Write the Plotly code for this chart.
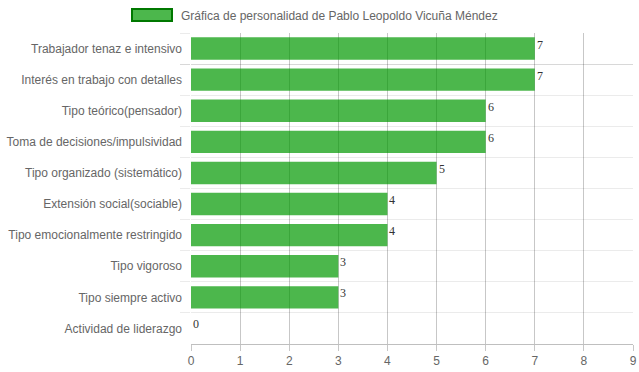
import plotly.graph_objects as go

categories = [
    "Trabajador tenaz e intensivo",
    "Interés en trabajo con detalles",
    "Tipo teórico(pensador)",
    "Toma de decisiones/impulsividad",
    "Tipo organizado (sistemático)",
    "Extensión social(sociable)",
    "Tipo emocionalmente restringido",
    "Tipo vigoroso",
    "Tipo siempre activo",
    "Actividad de liderazgo",
]
values = [7, 7, 6, 6, 5, 4, 4, 3, 3, 0]
series_name = "Gráfica de personalidad de Pablo Leopoldo Vicuña Méndez"
x_ticks = list(range(0, 10))

FONT = "Liberation Sans, Arial, Helvetica, sans-serif"
SERIF = "Liberation Serif, Times New Roman, serif"

fig = go.Figure()
fig.add_trace(go.Bar(
    x=values, y=categories, orientation="h",
    marker=dict(color="rgba(0,153,0,0.7)", line=dict(width=0)),
    name=series_name, showlegend=False, hoverinfo="x+y",
))

value_labels = [dict(
    text=str(v), x=v, y=c, xref="x", yref="y",
    xanchor="left", yanchor="middle", xshift=0, yshift=4,
    showarrow=False, font=dict(family=SERIF, size=12, color="#333"),
) for c, v in zip(categories, values)]

legend_text = dict(
    text=series_name, xref="paper", yref="paper",
    x=(179 - 191) / 442, y=1 + (33 - 15.5) / 311,
    xanchor="left", yanchor="middle", showarrow=False,
    font=dict(family=FONT, size=12, color="#666"),
)

fig.update_layout(
    width=639, height=372,
    margin=dict(l=191, r=6, t=33, b=28, autoexpand=False),
    paper_bgcolor="white", plot_bgcolor="white",
    bargap=0.28,
    font=dict(family=FONT, size=12, color="#666"),
    xaxis=dict(
        range=[0, 9], tickvals=x_ticks, ticktext=[str(t) for t in x_ticks],
        showgrid=True, gridcolor="rgba(0,0,0,0.22)", gridwidth=1,
        ticks="outside", ticklen=6, tickcolor="rgba(0,0,0,0.22)",
        showline=True, linecolor="rgba(0,0,0,0.25)", linewidth=1,
        zeroline=False, tickfont=dict(size=12, color="#666"),
        automargin=False,
    ),
    yaxis=dict(
        type="category", autorange="reversed", tickson="boundaries",
        showgrid=True, gridcolor="rgba(0,0,0,0.08)", gridwidth=1,
        ticks="outside", ticklen=10, tickcolor="rgba(0,0,0,0.08)",
        showline=False, zeroline=False,
        tickfont=dict(size=12, color="#666"),
        ticklabelstandoff=8,
        automargin=False,
    ),
    shapes=[dict(
        type="rect", xref="paper", yref="paper",
        xsizemode="pixel", ysizemode="pixel", xanchor=0, yanchor=1,
        x0=-59, x1=-19, y0=12, y1=24,
        fillcolor="rgba(0,153,0,0.7)", line=dict(color="rgba(0,120,0,1)", width=2),
    )],
    annotations=value_labels + [legend_text],
)

fig.write_html(
    "out.html",
    config={"displayModeBar": False},
    post_script="document.body.style.margin='0';document.body.style.overflow='hidden';",
)
